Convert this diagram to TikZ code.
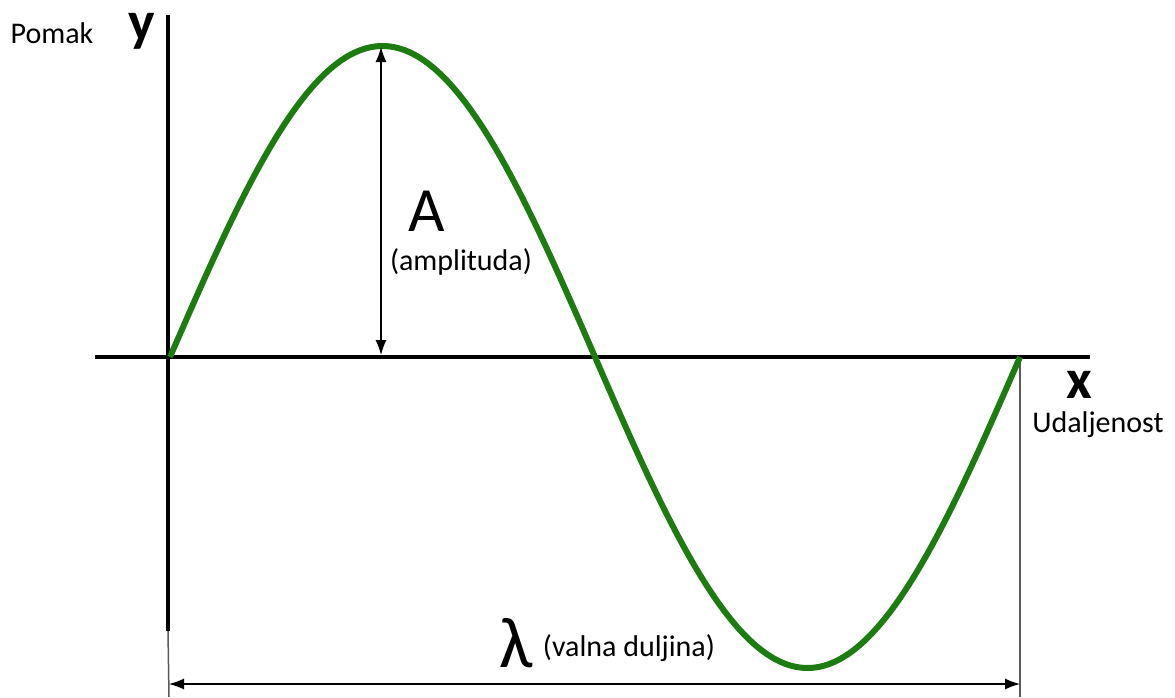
\documentclass[tikz,border=0pt]{standalone}
\usepackage{fontspec}
\setmainfont{Carlito}
\usetikzlibrary{arrows.meta}
\definecolor{wave}{RGB}{28,124,16}
\begin{document}
\begin{tikzpicture}[x=1pt,y=-1pt,
 axis/.style={line width=4.2pt},
 dim/.style={line width=1.3pt,{Latex[length=15pt,width=11pt]}-{Latex[length=15pt,width=11pt]}},
 guide/.style={line width=1.5pt,black!65},
 lbl/.style={inner sep=0pt,font=\fontsize{30}{34}\selectfont},
 big/.style={inner sep=0pt,font=\fontsize{63}{68}\selectfont},
 axlbl/.style={inner sep=0pt,anchor=base,text height=28pt,text depth=12pt,font=\fontsize{56}{60}\selectfont\bfseries}]
\useasboundingbox (0,0) rectangle (1175,697);
% key points
\coordinate (O) at (168,357);
\coordinate (ytop) at (168,15);
\coordinate (ybot) at (168,631);
\coordinate (yend) at (169,697);
\coordinate (xl) at (95,357);
\coordinate (xr) at (1090,357);
\coordinate (peak) at (381,47);
\coordinate (peakbase) at (381,355);
\coordinate (lend) at (1020,357);
\coordinate (lendbot) at (1020,697);
\coordinate (la) at (169,684);
\coordinate (lb) at (1020,684);
% guides
\draw[guide] (ybot) -- (yend);
\draw[guide] (lend) -- (lendbot);
% axes
\draw[axis] (ytop) -- (ybot);
\draw[axis] (xl) -- (xr);
% wave
\draw[wave,line width=6pt] plot[domain=170:1020,samples=240,smooth] (\x,{357-311*sin((\x-170)/850*360)});
% dimension arrows
\draw[dim] (peak) -- (peakbase);
\draw[dim] (la) -- (lb);
% labels
\node[lbl] (pomak) at (52,33) {Pomak};
\node[axlbl] (ylab) at (142,40) {y};
\node[axlbl] (xlab) at (1079,398) {x};
\node[lbl] (udal) at (1098,425) {Udaljenost};
\node[big] (A) at (427,211) {A};
\node[lbl] (ampl) at (461,262) {(amplituda)};
\node[big,font=\fontsize{72}{78}\selectfont] (lam) at (516,643) {λ};
\node[lbl] (valna) at (629,648) {(valna duljina)};
\end{tikzpicture}
\end{document}
